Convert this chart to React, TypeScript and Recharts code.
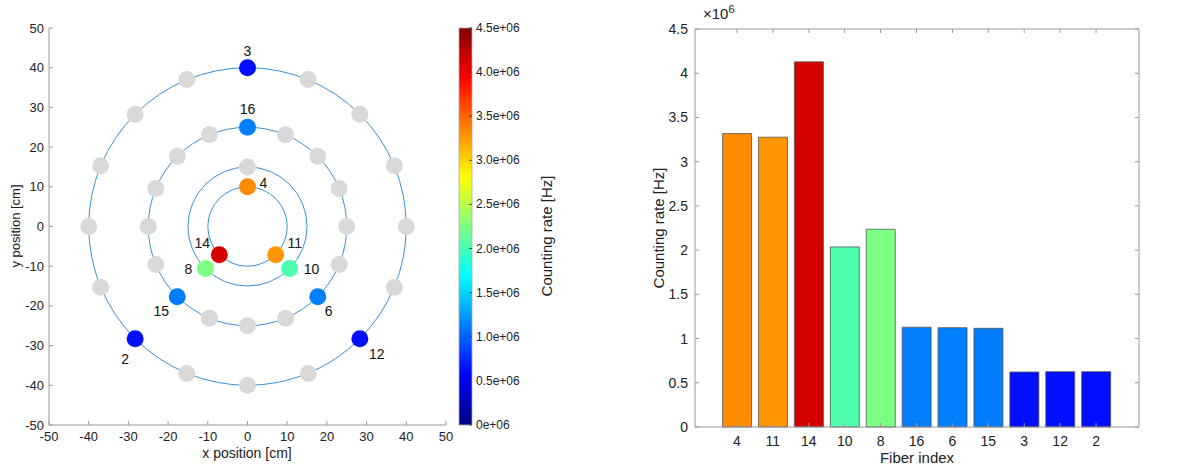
import React from "react";
import { ScatterChart, Scatter, XAxis, YAxis, BarChart, Bar, Cell } from "recharts";

// ring radii [cm]
const RING_RADII = [10, 15, 25, 40];

// inactive fibre positions [cm]
const GRAY_X = [-15.3, 15.3, -28.3, 28.3, -37, 37, -40, 40, -37, 37, -15.3, 15.3, 0,
  -9.6, 9.6, -17.7, 17.7, -23.1, 23.1, -25, 25, -23.1, 23.1, -9.6, 9.6, 0, 0];
const GRAY_Y = [37, 37, 28.3, 28.3, 15.3, 15.3, 0, 0, -15.3, -15.3, -37, -37, -40,
  23.1, 23.1, 17.7, 17.7, 9.6, 9.6, 0, 0, -9.6, -9.6, -23.1, -23.1, -25, 15];

// active fibres
const FIBER_IDS = [3, 16, 4, 14, 11, 8, 10, 15, 6, 2, 12];
const FIBER_X = [0, 0, 0, -7.1, 7.1, -10.6, 10.6, -17.7, 17.7, -28.3, 28.3];
const FIBER_Y = [40, 25, 10, -7.1, -7.1, -10.6, -10.6, -17.7, -17.7, -28.3, -28.3];

// bar chart, sorted as in the figure
const BAR_FIBERS = ["4", "11", "14", "10", "8", "16", "6", "15", "3", "12", "2"];
const BAR_RATES = [3.318e6, 3.277e6, 4.129e6, 2.036e6, 2.236e6, 1.128e6, 1.123e6, 1.116e6, 0.622e6, 0.626e6, 0.626e6];

const POS_TICKS = [-50, -40, -30, -20, -10, 0, 10, 20, 30, 40, 50];
const RATE_TICKS = [0, 0.5e6, 1e6, 1.5e6, 2e6, 2.5e6, 3e6, 3.5e6, 4e6, 4.5e6];
const CBAR_MAX = 4.5e6;

const FONT = "'Liberation Sans', Arial, Helvetica, sans-serif";
const AXIS = "#9a9a9a";
const INK = "#222";

// left plot area is 397 x 397 px for 100 cm
const PX_PER_CM = 397 / 100;
const BAR_PLOT_W = 444;
const BAR_PLOT_H = 398;

const LABEL_OFFSET: Record<number, [number, number]> = {
  3: [0, -17], 16: [0, -18], 4: [16, -4], 14: [-17, -12], 11: [19, -12],
  8: [-17, 0], 10: [22, 0], 15: [-16, 14], 6: [11, 14], 2: [-10, 20], 12: [17, 15],
};

function jet(t: number) {
  const c = (v: number) => Math.round(255 * Math.min(1, Math.max(0, v)));
  return `rgb(${c(1.5 - Math.abs(4 * t - 3))},${c(1.5 - Math.abs(4 * t - 2))},${c(1.5 - Math.abs(4 * t - 1))})`;
}

const rateOf = (id: number) => BAR_RATES[BAR_FIBERS.indexOf(String(id))];

const rings = RING_RADII.map(r => ({ x: 0, y: 0, r }));
const grays = GRAY_X.map((x, i) => ({ x, y: GRAY_Y[i] }));
const fibers = FIBER_IDS.map((id, i) => ({ id, x: FIBER_X[i], y: FIBER_Y[i], rate: rateOf(id) }));
const bars = BAR_FIBERS.map((fiber, i) => ({ fiber, rate: BAR_RATES[i] }));

function PosXTick({ x, y, payload }: any) {
  return (
    <g>
      <line x1={x} x2={x} y1={y} y2={y - 4} stroke={AXIS} />
      <text x={x} y={y + 16} textAnchor="middle" fontSize={13} fill={INK}>{payload.value}</text>
    </g>
  );
}

function PosYTick({ x, y, payload }: any) {
  return (
    <g>
      <line x1={x} x2={x + 4} y1={y} y2={y} stroke={AXIS} />
      <text x={x - 5} y={y + 4.5} textAnchor="end" fontSize={13} fill={INK}>{payload.value}</text>
    </g>
  );
}

function BarXTick({ x, y, payload }: any) {
  return (
    <g>
      <line x1={x} x2={x} y1={y} y2={y - 4} stroke={AXIS} />
      <line x1={x} x2={x} y1={y - BAR_PLOT_H} y2={y - BAR_PLOT_H + 4} stroke={AXIS} />
      <text x={x} y={y + 19} textAnchor="middle" fontSize={14} fill={INK}>{payload.value}</text>
    </g>
  );
}

function BarYTick({ x, y, payload }: any) {
  const v = payload.value;
  return (
    <g>
      <line x1={x} x2={x + 4} y1={y} y2={y} stroke={AXIS} />
      <line x1={x + BAR_PLOT_W} x2={x + BAR_PLOT_W - 4} y1={y} y2={y} stroke={AXIS} />
      {/* box: top edge and right edge */}
      {v === CBAR_MAX && <line x1={x} x2={x + BAR_PLOT_W} y1={y} y2={y} stroke={AXIS} />}
      {v === 0 && <line x1={x + BAR_PLOT_W} x2={x + BAR_PLOT_W} y1={y} y2={y - BAR_PLOT_H} stroke={AXIS} />}
      <text x={x - 7} y={y + 5} textAnchor="end" fontSize={14} fill={INK}>{v / 1e6}</text>
    </g>
  );
}

function Ring(p: any) {
  return <circle cx={p.cx} cy={p.cy} r={p.payload.r * PX_PER_CM} fill="none" stroke="#3b8ed8" strokeWidth={1} />;
}

function GrayDot(p: any) {
  return <circle cx={p.cx} cy={p.cy} r={8.5} fill="#d9d9d9" />;
}

function FiberDot(p: any) {
  const f = p.payload;
  const [dx, dy] = LABEL_OFFSET[f.id] || [0, -16];
  return (
    <g>
      <circle cx={p.cx} cy={p.cy} r={8.5} fill={jet(f.rate / CBAR_MAX)} />
      <text x={p.cx + dx} y={p.cy + dy} textAnchor="middle" dominantBaseline="central" fontSize={14} fill="#111">{f.id}</text>
    </g>
  );
}

function ColorBar() {
  const top = 28, h = 397, x0 = 4, w = 13;
  const stops = [0, 0.125, 0.375, 0.625, 0.875, 1];
  return (
    <svg width={165} height={468} style={{ position: "absolute", left: 455, top: 0 }}>
      <defs>
        <linearGradient id="jet" x1="0" y1="1" x2="0" y2="0">
          {stops.map(t => <stop key={t} offset={t} stopColor={t === 0 ? "rgb(0,0,128)" : t === 1 ? "rgb(128,0,0)" : jet(t)} />)}
        </linearGradient>
      </defs>
      <rect x={x0} y={top} width={w} height={h} fill="url(#jet)" stroke="#aaa" strokeWidth={0.8} />
      {RATE_TICKS.map(v => {
        const y = top + h - (v / CBAR_MAX) * h;
        return (
          <g key={v}>
            <line x1={x0 + w - 3} x2={x0 + w} y1={y} y2={y} stroke="#333" strokeWidth={0.8} />
            <text x={x0 + w + 4} y={y + 4} fontSize={12} fill={INK} fontFamily={FONT}>
              {v === 0 ? "0e+06" : `${(v / 1e6).toFixed(1)}e+06`}
            </text>
          </g>
        );
      })}
    </svg>
  );
}

const rot = (left: number, top: number, text: string, size: number) => (
  <div style={{ position: "absolute", left, top, transform: "translate(-50%, -50%) rotate(-90deg)", fontSize: size, whiteSpace: "nowrap", color: INK }}>{text}</div>
);

export default function App() {
  return (
    <div style={{ position: "relative", width: 1198, height: 468, background: "#fff", fontFamily: FONT, overflow: "hidden" }}>
      <style>{`body{margin:0}`}</style>

      <div style={{ position: "absolute", left: 0, top: 0 }}>
        <ScatterChart width={460} height={468} margin={{ top: 28, right: 14, left: 0, bottom: 0 }} style={{ fontFamily: FONT }}>
          <XAxis type="number" dataKey="x" domain={[-50, 50]} ticks={POS_TICKS} height={43}
            tickSize={0} tickMargin={0} tickLine={false} axisLine={{ stroke: AXIS }} tick={<PosXTick />} interval={0} />
          <YAxis type="number" dataKey="y" domain={[-50, 50]} ticks={POS_TICKS} width={49}
            tickSize={0} tickMargin={0} tickLine={false} axisLine={{ stroke: AXIS }} tick={<PosYTick />} interval={0} />
          <Scatter data={rings} shape={Ring} isAnimationActive={false} />
          <Scatter data={grays} shape={GrayDot} isAnimationActive={false} />
          <Scatter data={fibers} shape={FiberDot} isAnimationActive={false} />
        </ScatterChart>
      </div>
      {rot(15, 226, "y position [cm]", 13)}
      <div style={{ position: "absolute", left: 247, top: 453, transform: "translate(-50%, -50%)", fontSize: 14, color: INK, whiteSpace: "nowrap" }}>x position [cm]</div>

      <ColorBar />
      {rot(546, 236, "Counting rate [Hz]", 15)}

      <div style={{ position: "absolute", left: 620, top: 0 }}>
        <BarChart width={578} height={468} data={bars} margin={{ top: 29, right: 59, left: 0, bottom: 0 }}
          barCategoryGap="10%" style={{ fontFamily: FONT }}>
          <XAxis dataKey="fiber" height={41} padding={{ left: 24, right: 25 }} interval={0}
            tickSize={0} tickMargin={0} tickLine={false} axisLine={{ stroke: AXIS }} tick={<BarXTick />} />
          <YAxis type="number" domain={[0, CBAR_MAX]} ticks={RATE_TICKS} width={75} interval={0}
            tickSize={0} tickMargin={0} tickLine={false} axisLine={{ stroke: AXIS }} tick={<BarYTick />} />
          <Bar dataKey="rate" stroke="#555" strokeWidth={0.8} isAnimationActive={false}>
            {bars.map((b, i) => <Cell key={i} fill={jet(b.rate / CBAR_MAX)} />)}
          </Bar>
        </BarChart>
      </div>
      {rot(658, 228, "Counting rate [Hz]", 15)}
      <div style={{ position: "absolute", left: 917, top: 457, transform: "translate(-50%, -50%)", fontSize: 15, color: INK, whiteSpace: "nowrap" }}>Fiber index</div>
      <div style={{ position: "absolute", left: 703, top: 3, fontSize: 15, color: INK, whiteSpace: "nowrap" }}>
        ×10<sup style={{ fontSize: 11 }}>6</sup>
      </div>
    </div>
  );
}
